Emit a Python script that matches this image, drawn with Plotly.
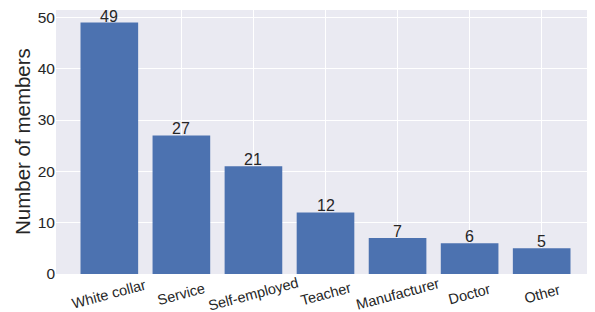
import plotly.graph_objects as go

categories = ["White collar", "Service", "Self-employed", "Teacher", "Manufacturer", "Doctor", "Other"]
members = [49, 27, 21, 12, 7, 6, 5]

font = "Liberation Sans, Arial, sans-serif"
dark = "#262626"
fig = go.Figure()
fig.add_trace(go.Bar(x=list(range(len(categories))), y=members, width=0.8,
                     marker=dict(color="#4C72B0", line=dict(width=0))))
for i, v in enumerate(members):
    fig.add_annotation(x=i, y=v, text=str(v), showarrow=False, yanchor="bottom",
                       yshift=-4, font=dict(size=16, color=dark, family=font))
for i, c in enumerate(categories):
    fig.add_annotation(x=i, xref="x", y=0, yref="paper", text=c, showarrow=False,
                       textangle=-15, yanchor="middle", xanchor="center", yshift=-20,
                       font=dict(size=14.5, color=dark, family=font))
fig.add_annotation(x=0, xref="paper", y=0.5, yref="paper", text="Number of members",
                   showarrow=False, textangle=-90, xanchor="center", yanchor="middle",
                   xshift=-34, font=dict(size=20.5, color=dark, family=font))
# page body has an 8px default margin, so the figure is sized to fill the rest
fig.update_layout(
    width=587, height=304,
    margin=dict(l=48, r=0, t=2, b=38, autoexpand=False),
    paper_bgcolor="white", plot_bgcolor="#EAEAF2",
    showlegend=False,
    font=dict(family=font, color=dark),
)
fig.update_xaxes(range=[-0.74, 6.74], tickmode="array", tickvals=list(range(len(categories))),
                 showticklabels=False, showgrid=True, gridcolor="white",
                 gridwidth=1, zeroline=False, ticks="", automargin=False)
fig.update_yaxes(range=[0, 51.45], dtick=10, showgrid=True, gridcolor="white", zeroline=False,
                 ticks="", tickfont=dict(size=15.5, color=dark), automargin=False)
fig.write_html("out.html")
